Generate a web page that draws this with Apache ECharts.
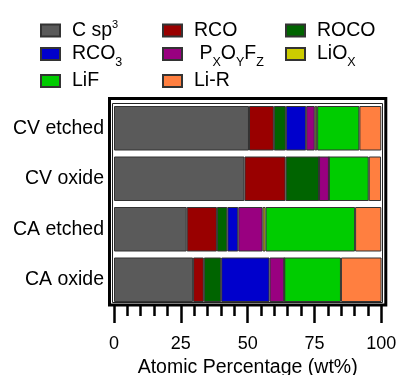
<!DOCTYPE html>
<html>
<head>
<meta charset="utf-8">
<script src="https://cdn.jsdelivr.net/npm/echarts@6/dist/echarts.min.js"></script>
<style>
  html, body { margin: 0; padding: 0; background: #fff; }
  #chart { width: 400px; height: 375px; }
</style>
</head>
<body>
<div id="chart"></div>
<script>
// Sample groups, top to bottom
const categories = ['CV etched', 'CV oxide', 'CA etched', 'CA oxide'];

// Atomic percentage (wt%) of each chemical component per sample
const Csp3   = [50.5, 48.8, 27.2, 29.6];
const RCO    = [9.3, 15.4, 11.3, 4.0];
const ROCO   = [4.5, 12.5, 3.9, 6.5];
const RCO3   = [7.6, 0, 4.1, 18.1];
const PxOyFz = [3.2, 3.7, 9.1, 5.5];
const LiOx   = [0.9, 0, 1.1, 0];
const LiF    = [15.8, 14.9, 33.5, 21.2];
const LiR    = [8.2, 4.6, 9.8, 15.2];

// x-axis tick labels
const xTicks = [0, 25, 50, 75, 100];

const seriesNames  = ['C sp3', 'RCO', 'ROCO', 'RCO3', 'PxOyFz', 'LiOx', 'LiF', 'Li-R'];
const seriesValues = [Csp3, RCO, ROCO, RCO3, PxOyFz, LiOx, LiF, LiR];
const seriesColors = ['#5a5a5a', '#990000', '#006400', '#0000cc', '#990080', '#cccc00', '#00cc00', '#ff7f40'];

// Rich-text legend labels (superscripts / subscripts); the trailing {sub| }
// keeps every label block the same height
const legendText = {
  'C sp3':  '{g| }{b|C sp}{sup|3}{sub| }',
  'RCO':    '{g| }{b|RCO}{sub| }',
  'ROCO':   '{g| }{b|ROCO}{sub| }',
  'RCO3':   '{g| }{b|RCO}{sub|3}',
  'PxOyFz': '{g| }{b| P}{sub|X}{b|O}{sub|Y}{b|F}{sub|Z}',
  'LiOx':   '{g| }{b|LiO}{sub|X}',
  'LiF':    '{g| }{b|LiF}{sub| }',
  'Li-R':   '{g| }{b|Li-R}{sub| }'
};

const FONT = '"Liberation Sans", Arial, Helvetica, sans-serif';

const legendRich = {
  g:   { width: 7, fontSize: 19, lineHeight: 30, fontFamily: FONT },
  b:   { fontSize: 19.5, lineHeight: 30, color: '#000', fontFamily: FONT },
  sub: { fontSize: 12.5, lineHeight: 30, color: '#000', fontFamily: FONT, padding: [18, 0, 0, 0] },
  sup: { fontSize: 11, lineHeight: 30, color: '#000', fontFamily: FONT, padding: [0, 0, 11, 0] }
};

// three-column legend grid
const legendCols = [40, 162, 285];
const legendRows = [21.5, 45, 72];

const legends = seriesNames.map((name, i) => ({
  data: [name],
  left: legendCols[i % 3],
  top: legendRows[Math.floor(i / 3)] - 6.5,
  padding: 0,
  icon: 'rect',
  itemWidth: 19,
  itemHeight: 12,
  selectedMode: false,
  formatter: (n) => legendText[n],
  textStyle: { rich: legendRich }
}));

const series = seriesNames.map((name, i) => ({
  name: name,
  type: 'bar',
  stack: 'total',
  barWidth: 44.5,
  data: seriesValues[i],
  itemStyle: { color: seriesColors[i], borderColor: '#333', borderWidth: 1 },
  emphasis: { disabled: true }
}));

const chart = echarts.init(document.getElementById('chart'), null, { renderer: 'canvas' });
chart.setOption({
  animation: false,
  backgroundColor: '#fff',
  legend: legends,
  grid: { left: 114, right: 18.7, top: 103, height: 202, containLabel: false, outerBoundsMode: 'none' },
  xAxis: {
    type: 'value',
    min: xTicks[0],
    max: xTicks[xTicks.length - 1],
    interval: xTicks[1] - xTicks[0],
    name: 'Atomic Percentage (wt%)',
    nameLocation: 'middle',
    nameGap: 47,
    nameTextStyle: { fontSize: 19.5, color: '#000', fontFamily: FONT },
    axisLine: { show: false },
    axisTick: { show: true, length: 18, lineStyle: { color: '#000', width: 2.5 } },
    minorTick: { show: true, splitNumber: 5, length: 11, lineStyle: { color: '#000', width: 2.5 } },
    splitLine: { show: false },
    minorSplitLine: { show: false },
    axisLabel: { fontSize: 18, color: '#000', margin: 30, fontFamily: FONT }
  },
  yAxis: {
    type: 'category',
    data: categories,
    inverse: true,
    axisLine: { show: false },
    axisTick: { show: false },
    axisLabel: { fontSize: 19.5, color: '#000', margin: 10, fontFamily: FONT }
  },
  graphic: [
    { type: 'rect', silent: true, z: 100,
      shape: { x: 109.5, y: 98.5, width: 276.3, height: 206.5 },
      style: { fill: 'none', stroke: '#000', lineWidth: 3 } },
    { type: 'rect', silent: true, z: 100,
      shape: { x: 112.5, y: 103.5, width: 270, height: 199 },
      style: { fill: 'none', stroke: '#222', lineWidth: 1 } }
  ],
  series: series
});
</script>
</body>
</html>
